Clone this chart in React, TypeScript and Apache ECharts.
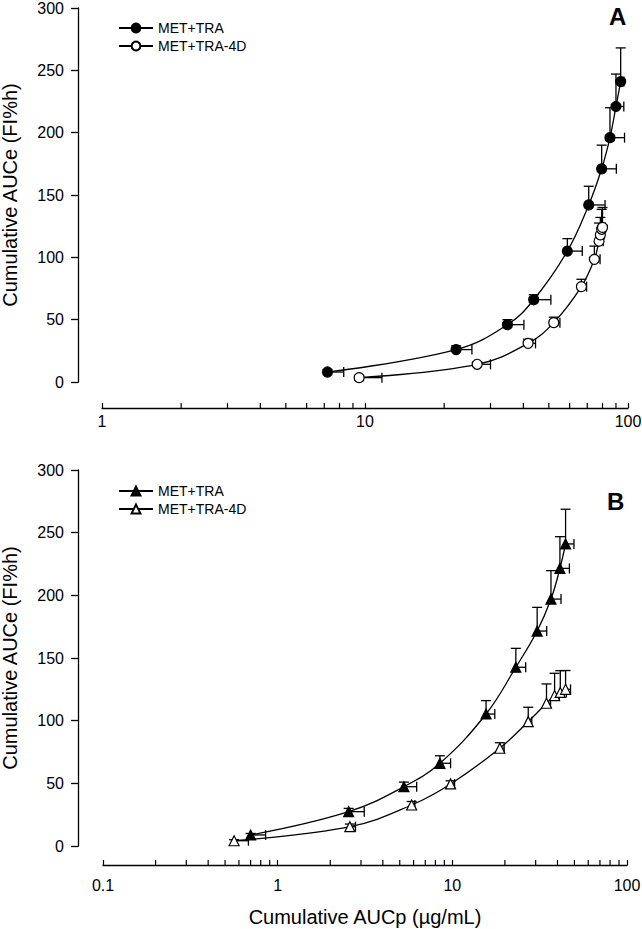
import React, { useEffect, useRef } from "react";
import * as echarts from "echarts";

// ---- Panel A (x: Cumulative AUCp, log) ----
const aFilledX = [7.2, 22.2, 34.8, 43.8, 58.8, 70.9, 79.4, 85.4, 90.0, 93.8];
const aFilledY = [8, 26, 46, 66, 105, 142, 171, 196, 221, 241];
const aFilledXHi = [8.3, 25.5, 40.2, 50.9, 67, 81.8, 90.3, 97, 96.4, 96.5];
const aFilledYHi = [10, 29, 50, 70, 115, 157, 190, 220, 247, 268];

const aOpenX = [9.5, 26.7, 41.7, 52.2, 66.5, 74.5, 77.6, 78.5, 79.4, 80.0];
const aOpenY = [3.5, 14.2, 31, 47.6, 76.5, 98.4, 113, 118, 122.5, 124];
const aOpenXHi = [11.6, 30, 44.5, 55.1, 69.6, 78.3, 80.5, 81, 81.5, 82];
const aOpenYHi = [4, 16, 34.3, 52, 82.4, 109, 127.5, 132, 138.5, 140];

// ---- Panel B ----
const bFilledX = [0.7, 2.55, 5.28, 8.49, 15.6, 23.1, 30.6, 36.7, 41.3, 44.5];
const bFilledY = [8.8, 27.4, 47.3, 66, 105.3, 142.6, 171.5, 197, 221.5, 241];
const bFilledXHi = [0.853, 3.13, 6.25, 9.77, 17.5, 26.3, 34.7, 41.9, 46.8, 49.7];
const bFilledYHi = [10, 30, 51, 72, 116, 157.7, 190.4, 219.7, 246.8, 268.7];

const bOpenX = [0.563, 2.59, 5.85, 9.77, 18.7, 27.2, 34.6, 38.5, 41.5, 44.5];
const bOpenY = [4.2, 15.4, 32.7, 49.5, 78, 99.2, 113.9, 120, 122.5, 125];
const bOpenXHi = [0.68, 2.79, 6.1, 10.3, 19.8, 28.5, 36.5, 41, 45, 47.5];
const bOpenYHi = [5, 17.5, 35.5, 52, 82.4, 110.7, 129.3, 137.8, 139.9, 140];

const seriesNames = ["MET+TRA", "MET+TRA-4D"];
const xLabelsA = [1, 10, 100];
const xLabelsB = [0.1, 1, 10, 100];
const minorMultipliers = [2, 3, 4, 5, 6, 7, 8, 9];
const yTitle = "Cumulative AUCe (FI%h)";
const xTitle = "Cumulative AUCp (µg/mL)";

const FONT = "'Liberation Sans', Arial, sans-serif";

function minorTicks(decades: number[]) {
  const out: number[][] = [];
  decades.forEach((d) => {
    minorMultipliers.forEach((m) => out.push([+(d * m).toPrecision(6), 0]));
  });
  return out;
}

function pairs(xs: number[], ys: number[]) {
  return xs.map((x, i) => [x, ys[i]]);
}
function errRows(xs: number[], ys: number[], xh: number[], yh: number[]) {
  return xs.map((x, i) => [x, ys[i], xh[i], yh[i]]);
}

const errorRender = (params: any, api: any) => {
  const x = api.value(0);
  const y = api.value(1);
  const xh = api.value(2);
  const yh = api.value(3);
  const p = api.coord([x, y]);
  const px = api.coord([xh, y]);
  const py = api.coord([x, yh]);
  const cap = 5;
  const st = { stroke: "#000", lineWidth: 1.3 };
  return {
    type: "group",
    children: [
      { type: "line", shape: { x1: p[0], y1: p[1], x2: px[0], y2: px[1] }, style: st },
      { type: "line", shape: { x1: px[0], y1: px[1] - cap, x2: px[0], y2: px[1] + cap }, style: st },
      { type: "line", shape: { x1: p[0], y1: p[1], x2: py[0], y2: py[1] }, style: st },
      { type: "line", shape: { x1: py[0] - cap, y1: py[1], x2: py[0] + cap, y2: py[1] }, style: st },
    ],
  };
};

const minorRender = (offset: number) => (params: any, api: any) => {
  const p = api.coord([api.value(0), 0]);
  const base = p[1] + offset;
  return {
    type: "line",
    shape: { x1: p[0], y1: base, x2: p[0], y2: base - 5 },
    style: { stroke: "#000", lineWidth: 1.2 },
  };
};

export default function App() {
  const ref = useRef<HTMLDivElement>(null);
  useEffect(() => {
    if (!ref.current) return;
    const chart = echarts.init(ref.current, undefined, { renderer: "svg" });

    const yAxisCommon = (gridIndex: number, offset: number) => ({
      type: "value",
      gridIndex,
      min: 0,
      max: 300,
      interval: 50,
      offset,
      name: yTitle,
      nameLocation: "middle",
      nameGap: 58,
      nameTextStyle: { fontFamily: FONT, fontSize: 20, color: "#000" },
      axisLine: { show: true, lineStyle: { color: "#000", width: 1.3 } },
      axisTick: { show: true, length: 7, lineStyle: { color: "#000", width: 1.3 } },
      axisLabel: { fontFamily: FONT, fontSize: 16, color: "#000", margin: 14 },
      splitLine: { show: false },
    });

    const xAxisCommon = (gridIndex: number, min: number, max: number, offset: number, labels: number[], margin: number, withName: boolean) => ({
      type: "log",
      logBase: 10,
      gridIndex,
      min,
      max,
      offset,
      name: withName ? xTitle : "",
      nameLocation: "middle",
      nameGap: 42,
      nameTextStyle: { fontFamily: FONT, fontSize: 20, color: "#000" },
      axisLine: { show: true, onZero: false, lineStyle: { color: "#000", width: 1.3 } },
      axisTick: { show: true, inside: true, length: 5, lineStyle: { color: "#000", width: 1.2 } },
      axisLabel: {
        fontFamily: FONT,
        fontSize: 16,
        color: "#000",
        margin,
        customValues: labels,
        formatter: (v: number) => String(v),
      },
      splitLine: { show: false },
      minorTick: { show: false },
    });

    const lineSeries = (name: string, xi: number, data: number[][], symbol: string, filled: boolean) => ({
      type: "line",
      name,
      xAxisIndex: xi,
      yAxisIndex: xi,
      data,
      smooth: 0.4,
      symbol,
      symbolSize: 10,
      showSymbol: true,
      z: 3,
      lineStyle: { color: "#000", width: 1.3 },
      itemStyle: { color: filled ? "#000" : "#fff", borderColor: "#000", borderWidth: 1.2 },
      emphasis: { disabled: true },
    });

    const errSeries = (xi: number, data: number[][]) => ({
      type: "custom",
      xAxisIndex: xi,
      yAxisIndex: xi,
      data,
      encode: { x: 0, y: 1 },
      renderItem: errorRender,
      z: 2,
      silent: true,
    });

    const minorSeries = (xi: number, data: number[][], offset: number) => ({
      type: "custom",
      xAxisIndex: xi,
      yAxisIndex: xi,
      data,
      encode: { x: 0, y: 1 },
      renderItem: minorRender(offset),
      clip: false,
      z: 1,
      silent: true,
    });

    const legendCommon = (top: number, names: string[]) => ({
      orient: "vertical",
      left: 113,
      top,
      itemWidth: 34,
      itemHeight: 11,
      itemGap: 4,
      data: names,
      formatter: (n: string) => n.split("|")[1],
      textStyle: { fontFamily: FONT, fontSize: 14, color: "#000" },
      selectedMode: false,
    });

    const nA1 = "A|" + seriesNames[0];
    const nA2 = "A|" + seriesNames[1];
    const nB1 = "B|" + seriesNames[0];
    const nB2 = "B|" + seriesNames[1];

    chart.setOption({
      animation: false,
      backgroundColor: "#fff",
      textStyle: { fontFamily: FONT },
      grid: [
        { left: 102, right: 14, top: 8, height: 374, outerBoundsMode: "none", containLabel: false },
        { left: 103, right: 15, top: 470, height: 376, outerBoundsMode: "none", containLabel: false },
      ],
      xAxis: [
        xAxisCommon(0, 1, 100, 26, xLabelsA, 5, false),
        xAxisCommon(1, 0.1, 100, 19, xLabelsB, 12, true),
      ],
      yAxis: [yAxisCommon(0, 24), yAxisCommon(1, 25)],
      legend: [legendCommon(16, [nA1, nA2]), legendCommon(479, [nB1, nB2])],
      graphic: [
        { type: "text", left: 609, top: 4, style: { text: "A", fontFamily: FONT, fontSize: 24, fontWeight: "bold", fill: "#000" } },
        { type: "text", left: 607, top: 489, style: { text: "B", fontFamily: FONT, fontSize: 24, fontWeight: "bold", fill: "#000" } },
      ],
      series: [
        minorSeries(0, minorTicks([1, 10]), 26),
        minorSeries(1, minorTicks([0.1, 1, 10]), 19),
        errSeries(0, errRows(aFilledX, aFilledY, aFilledXHi, aFilledYHi)),
        errSeries(0, errRows(aOpenX, aOpenY, aOpenXHi, aOpenYHi)),
        errSeries(1, errRows(bFilledX, bFilledY, bFilledXHi, bFilledYHi)),
        errSeries(1, errRows(bOpenX, bOpenY, bOpenXHi, bOpenYHi)),
        lineSeries(nA1, 0, pairs(aFilledX, aFilledY), "circle", true),
        lineSeries(nA2, 0, pairs(aOpenX, aOpenY), "circle", false),
        lineSeries(nB1, 1, pairs(bFilledX, bFilledY), "triangle", true),
        lineSeries(nB2, 1, pairs(bOpenX, bOpenY), "triangle", false),
      ],
    });
    return () => chart.dispose();
  }, []);
  return (
    <div
      ref={ref}
      style={{ position: "fixed", left: 0, top: 0, width: 642, height: 929, background: "#fff" }}
    />
  );
}
